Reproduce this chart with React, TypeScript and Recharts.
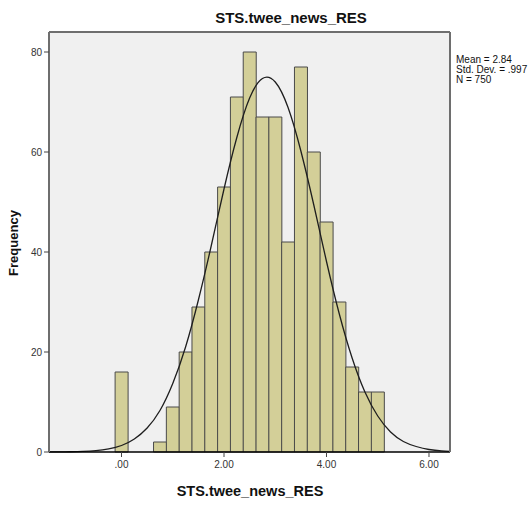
import { ComposedChart, Bar, Line, XAxis, YAxis, CartesianGrid } from 'recharts';

// histogram bins (bin centre) and counts
const binCenters = [0, 0.25, 0.5, 0.75, 1, 1.25, 1.5, 1.75, 2, 2.25, 2.5, 2.75, 3, 3.25, 3.5, 3.75, 4, 4.25, 4.5, 4.75, 5];
const frequencies = [16, 0, 0, 2, 9, 20, 29, 40, 53, 71, 80, 67, 67, 42, 77, 60, 46, 30, 17, 12, 12];

// fitted normal curve
const curveX = [-1.5, -1.25, -1, -0.75, -0.5, -0.25, 0, 0.25, 0.5, 0.75, 1, 1.25, 1.5, 1.75, 2, 2.25, 2.5, 2.75, 3, 3.25, 3.5, 3.75, 4, 4.25, 4.5, 4.75, 5, 5.25, 5.5, 5.75, 6, 6.25, 6.5];
const curveY = [0.01, 0.02, 0.05, 0.11, 0.27, 0.62, 1.3, 2.6, 4.8, 8.3, 13.7, 21, 30.4, 41.2, 52.6, 62.9, 70.8, 74.7, 74, 68.9, 60.2, 49.5, 38.1, 27.6, 18.8, 12, 7.2, 4, 2.1, 1.1, 0.5, 0.22, 0.09];

const xTicks = [0, 2, 4, 6];
const yTicks = [0, 20, 40, 60, 80];
const statLines = ['Mean = 2.84', 'Std. Dev. = .997', 'N = 750'];

const tableData = curveX.map((x, i) => {
  const b = binCenters.indexOf(x);
  return { x, curve: curveY[i], freq: b >= 0 ? frequencies[b] : null };
});

const font = '"Liberation Sans", Arial, sans-serif';
const tickStyle = { fontSize: 10, fill: '#333', fontFamily: font };
const xDomain = [-1.415, 6.41];

export default function App() {
  return (
    <div style={{ position: 'absolute', left: 0, top: 0, width: 532, height: 505, background: '#fff', fontFamily: font }}>
      <ComposedChart
        width={532}
        height={505}
        data={tableData}
        margin={{ top: 31, right: 81, bottom: 0, left: 0 }}
        barCategoryGap={0}
        barGap={0}
      >
        <CartesianGrid horizontal={false} vertical={false} fill="#f0f0f0" />
        <XAxis
          xAxisId="b"
          dataKey="x"
          type="number"
          domain={xDomain}
          allowDataOverflow
          ticks={xTicks}
          tickFormatter={(v: number) => (v === 0 ? '.00' : v.toFixed(2))}
          height={53}
          tick={tickStyle}
          tickSize={5}
          tickMargin={4}
          axisLine={{ stroke: '#000', strokeWidth: 1.5 }}
          tickLine={{ stroke: '#444' }}
        />
        <XAxis xAxisId="t" orientation="top" dataKey="x" type="number" domain={xDomain} allowDataOverflow height={1} tick={false} tickLine={false} axisLine={{ stroke: '#6e6e6e', strokeWidth: 2 }} />
        <YAxis
          yAxisId="l"
          type="number"
          domain={[0, 84]}
          ticks={yTicks}
          width={49}
          tick={tickStyle}
          tickSize={5}
          tickMargin={2}
          axisLine={{ stroke: '#6e6e6e', strokeWidth: 2 }}
          tickLine={{ stroke: '#444' }}
        />
        <YAxis yAxisId="r" orientation="right" type="number" domain={[0, 84]} width={1} tick={false} tickLine={false} axisLine={{ stroke: '#6e6e6e', strokeWidth: 2 }} />
        <Bar
          xAxisId="b"
          yAxisId="l"
          dataKey="freq"
          fill="#d3cf98"
          stroke="#4a4a4a"
          strokeWidth={1}
          isAnimationActive={false}
        />
        <Line
          xAxisId="b"
          yAxisId="l"
          type="natural"
          dataKey="curve"
          stroke="#1e1e1e"
          strokeWidth={1.3}
          dot={false}
          activeDot={false}
          isAnimationActive={false}
        />
      </ComposedChart>

      <div style={{ position: 'absolute', left: 191, top: 9, width: 200, textAlign: 'center', fontSize: 15, fontWeight: 'bold', color: '#111' }}>
        STS.twee_news_RES
      </div>
      <div style={{ position: 'absolute', left: 456, top: 55, fontSize: 10, lineHeight: '10px', color: '#111' }}>
        {statLines.map((s) => (
          <div key={s}>{s}</div>
        ))}
      </div>
      <div style={{ position: 'absolute', left: 150, top: 483, width: 200, textAlign: 'center', fontSize: 14.5, fontWeight: 'bold', color: '#111' }}>
        STS.twee_news_RES
      </div>
      <div style={{ position: 'absolute', left: 14, top: 243, width: 0, height: 0 }}>
        <div style={{ position: 'absolute', left: -50, top: -8, width: 100, textAlign: 'center', transform: 'rotate(-90deg)', fontSize: 13, fontWeight: 'bold', color: '#111', lineHeight: '16px' }}>
          Frequency
        </div>
      </div>
    </div>
  );
}
